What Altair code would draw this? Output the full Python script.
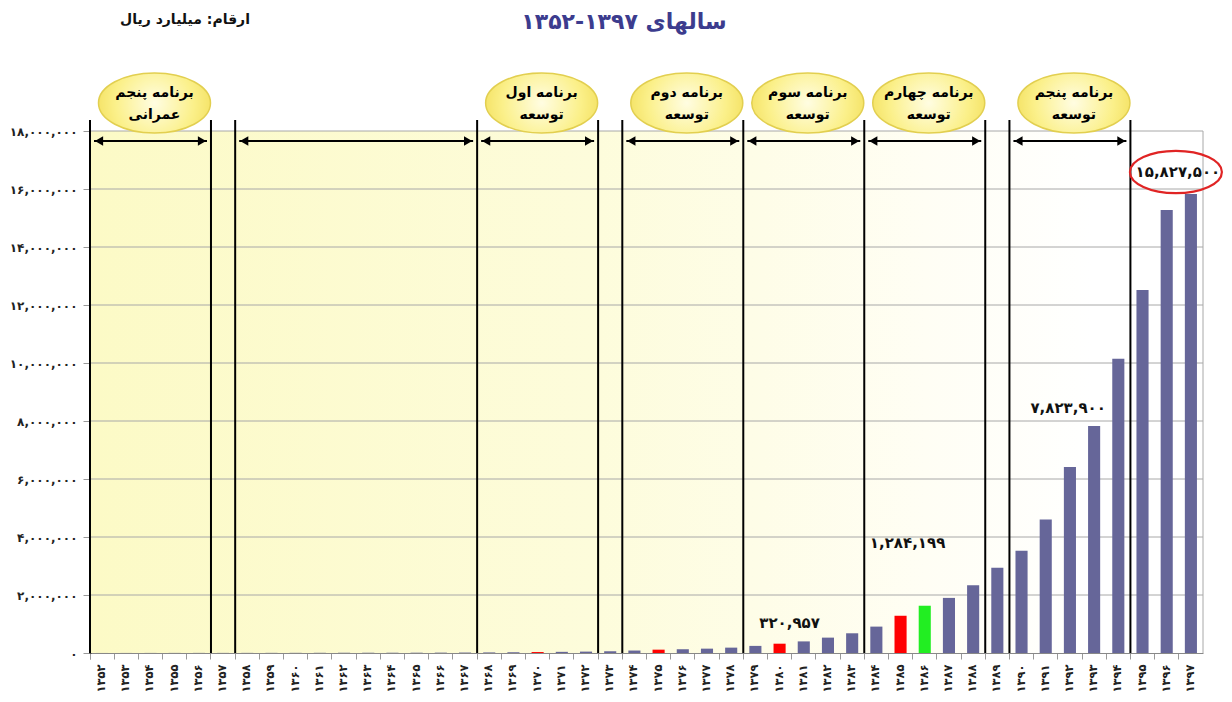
import json
import altair as alt
import pandas as pd

FA = str.maketrans("0123456789", "۰۱۲۳۴۵۶۷۸۹")
FONT = "DejaVu Sans"

# ---------------- data ----------------
years = [1352, 1353, 1354, 1355, 1356, 1357, 1358, 1359, 1360, 1361, 1362, 1363,
         1364, 1365, 1366, 1367, 1368, 1369, 1370, 1371, 1372, 1373, 1374, 1375,
         1376, 1377, 1378, 1379, 1380, 1381, 1382, 1383, 1384, 1385, 1386, 1387,
         1388, 1389, 1390, 1391, 1392, 1393, 1394, 1395, 1396, 1397]
values = [1200, 1900, 2600, 3300, 3800, 3600, 4200, 4900, 5800, 7100, 8400, 9200,
          9600, 10500, 12800, 15600, 20000, 26000, 33000, 40000, 48000, 60000, 85000, 115000,
          130000, 150000, 185000, 245000, 320957, 400000, 530000, 680000, 910000, 1284199, 1630000, 1900000,
          2340000, 2940000, 3530000, 4600000, 6410000, 7823900, 10150000, 12520000, 15280000, 15827500]
bar_group = ["base"] * 18 + ["red"] + ["base"] * 4 + ["red"] + ["base"] * 4 + ["red"] + \
            ["base"] * 4 + ["red", "green"] + ["base"] * 11

y_ticks = [0, 2000000, 4000000, 6000000, 8000000, 10000000, 12000000, 14000000, 16000000, 18000000]
y_tick_labels = [f"{v:,}".translate(FA) for v in y_ticks]
year_labels = [str(y).translate(FA) for y in years]

boundaries = [1352, 1357, 1358, 1368, 1373, 1374, 1379, 1384, 1389, 1390, 1395]
arrow_start = [1352, 1358, 1368, 1374, 1379, 1384, 1390]
arrow_end = [1357, 1368, 1373, 1379, 1384, 1389, 1395]
program_mid = [1354, 1370, 1376, 1381, 1386, 1392]
program_line1 = ["برنامه پنجم", "برنامه اول", "برنامه دوم", "برنامه سوم", "برنامه چهارم", "برنامه پنجم"]
program_line2 = ["عمرانی", "توسعه", "توسعه", "توسعه", "توسعه", "توسعه"]

title_text = "سالهای ۱۳۹۷-۱۳۵۲"
unit_text = "ارقام: میلیارد ریال"

# ---------------- layout ----------------
W, H = 1113, 522
df = pd.DataFrame({"year": years, "value": values, "grp": bar_group})
df_b = pd.DataFrame({"b": boundaries})
df_a = pd.DataFrame({"s": arrow_start, "e": arrow_end})
df_p = pd.DataFrame({"mid": program_mid,
                     "txt": [a + "\n" + b for a, b in zip(program_line1, program_line2)]})
df_g = pd.DataFrame({"g": y_ticks[1:]})
one = pd.DataFrame({"a": [0]})

yscale = alt.Scale(domain=[0, 18000000], nice=False, zero=True)
xscale = alt.Scale(paddingInner=0, paddingOuter=0)

x_expr = f"{json.dumps(year_labels, ensure_ascii=False)}[indexof({json.dumps(years)}, datum.value)]"
y_expr = f"{json.dumps(y_tick_labels, ensure_ascii=False)}[indexof({json.dumps(y_ticks)}, datum.value)]"

bg_grad = alt.LinearGradient(
    gradient="linear",
    stops=[alt.GradientStop(color="#fcfac6", offset=0),
           alt.GradientStop(color="#fdfcdb", offset=0.45),
           alt.GradientStop(color="#fffef4", offset=0.75),
           alt.GradientStop(color="#ffffff", offset=0.9)],
    x1=0, x2=1, y1=0, y2=0)

background = alt.Chart(one).mark_rect(fill=bg_grad).encode(
    x=alt.value(0), x2=alt.value("width"), y=alt.value(0), y2=alt.value("height"))

grid = alt.Chart(df_g).mark_rule(color="#a8a8a8", strokeWidth=1).encode(
    y=alt.Y("g:Q", scale=yscale, title=None))

right_border = alt.Chart(one).mark_rule(color="#a8a8a8", strokeWidth=1).encode(
    x=alt.value("width"), y=alt.value(0), y2=alt.value("height"))

bars = alt.Chart(df).mark_bar(width=alt.RelativeBandSize(0.5)).encode(
    x=alt.X("year:O", scale=xscale, title=None,
            axis=alt.Axis(bandPosition=0, labelAngle=270, labelExpr=x_expr, tickExtra=True)),
    y=alt.Y("value:Q", scale=yscale, title=None,
            axis=alt.Axis(values=y_ticks, labelExpr=y_expr)),
    color=alt.Color("grp:N", legend=None,
                    scale=alt.Scale(domain=["base", "red", "green"],
                                    range=["#666699", "#ff0000", "#22ee22"])),
)

separators = alt.Chart(df_b).mark_rule(color="black", strokeWidth=2).encode(
    x=alt.X("b:O", bandPosition=0, title=None),
    y=alt.value(-11), y2=alt.value("height"))

arrows = alt.Chart(df_a).mark_rule(color="black", strokeWidth=2, xOffset=4, x2Offset=-4).encode(
    x=alt.X("s:O", bandPosition=0, title=None),
    x2=alt.X2("e:O", bandPosition=0),
    y=alt.value(10))

head_l = alt.Chart(df_a).mark_point(shape="triangle-left", filled=True, color="black",
                                    size=90, opacity=1, xOffset=9).encode(
    x=alt.X("s:O", bandPosition=0, title=None), y=alt.value(10))
head_r = alt.Chart(df_a).mark_point(shape="triangle-right", filled=True, color="black",
                                    size=90, opacity=1, xOffset=-9).encode(
    x=alt.X("e:O", bandPosition=0, title=None), y=alt.value(10))

ell_path = "M -1 0 A 1 0.536 0 1 1 1 0 A 1 0.536 0 1 1 -1 0 Z"
ell_fill = alt.RadialGradient(
    gradient="radial",
    stops=[alt.GradientStop(color="#fffde2", offset=0),
           alt.GradientStop(color="#fbf08a", offset=0.7),
           alt.GradientStop(color="#f5e46a", offset=1)])
ellipses = alt.Chart(df_p).mark_point(shape=ell_path, size=112 * 112, fill=ell_fill,
                                      filled=True, stroke="#e2cf50", strokeWidth=1.5,
                                      opacity=1, xOffset=4).encode(
    x=alt.X("mid:O", title=None), y=alt.value(-28))

ell_text = alt.Chart(df_p).mark_text(font=FONT, fontSize=14, fontWeight="bold", color="black",
                                     lineBreak="\n", lineHeight=22, xOffset=4).encode(
    x=alt.X("mid:O", title=None), y=alt.value(-38), text="txt:N")

def value_label(year, dx, dy):
    row = df[df.year == year]
    lab = row.assign(lbl=[f"{v:,}".translate(FA) for v in row.value])
    return alt.Chart(lab).mark_text(font=FONT, fontSize=15, fontWeight="bold", color="#111",
                                    dx=dx, dy=dy).encode(
        x=alt.X("year:O", title=None), y=alt.Y("value:Q", scale=yscale, title=None),
        text="lbl:N")

labels = [value_label(1380, 10, -21), value_label(1385, 7, -73),
          value_label(1393, -26, -18), value_label(1397, -13, -22)]

red_ell = alt.Chart(df[df.year == 1397]).mark_point(
    shape="M -1 0 A 1 0.46 0 1 1 1 0 A 1 0.46 0 1 1 -1 0 Z", size=92 * 92,
    filled=False, stroke="#e02424", strokeWidth=2.2, opacity=1, xOffset=-15, yOffset=-22).encode(
    x=alt.X("year:O", title=None), y=alt.Y("value:Q", scale=yscale, title=None))

title = alt.Chart(one).mark_text(font=FONT, fontSize=22, fontWeight="bold", color="#3c3c8e").encode(
    x=alt.value(534), y=alt.value(-109), text=alt.value(title_text))
unit = alt.Chart(one).mark_text(font=FONT, fontSize=14, fontWeight="bold", color="#111").encode(
    x=alt.value(95), y=alt.value(-111), text=alt.value(unit_text))

chart = alt.layer(background, grid, right_border, bars, separators, arrows, head_l, head_r,
                  ellipses, ell_text, *labels, red_ell, title, unit).properties(
    width=W, height=H,
    autosize=alt.AutoSizeParams(type="none"),
    padding={"left": 82, "top": 123, "right": 21, "bottom": 41},
).configure_view(stroke=None).configure_axis(
    labelFont=FONT, labelFontWeight="bold", labelColor="#222", grid=False,
).configure_axisX(
    labelFontSize=11.5, domainColor="#888", tickColor="#999", tickSize=6, labelPadding=5,
).configure_axisY(
    labelFontSize=12, domainColor="black", domainWidth=2, tickColor="#999", tickSize=7,
    labelPadding=6,
)

chart.save("out.html", embed_options={"renderer": "svg", "actions": False})
